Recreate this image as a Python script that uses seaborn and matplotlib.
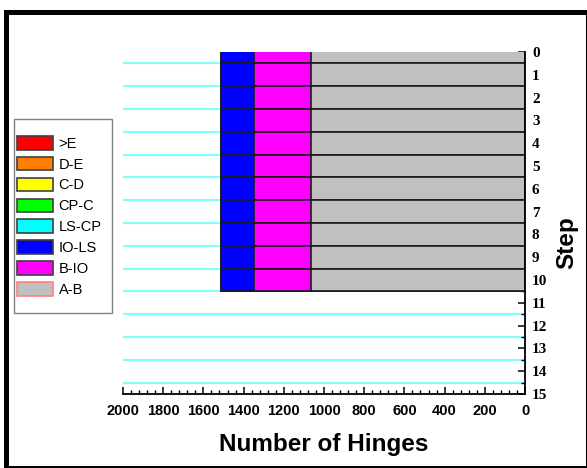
import numpy as np
import pandas as pd
import matplotlib
matplotlib.use("Agg")
import matplotlib.pyplot as plt
from matplotlib.patches import Patch, Rectangle
from matplotlib.ticker import MultipleLocator
import seaborn as sns

# Hinge counts per performance range for each analysis step
steps = [0, 1, 2, 3, 4, 5, 6, 7, 8, 9, 10]
hinges_gt_e = [0, 0, 0, 0, 0, 0, 0, 0, 0, 0, 0]
hinges_d_e = [0, 0, 0, 0, 0, 0, 0, 0, 0, 0, 0]
hinges_c_d = [0, 0, 0, 0, 0, 0, 0, 0, 0, 0, 0]
hinges_cp_c = [0, 0, 0, 0, 0, 0, 0, 0, 0, 0, 0]
hinges_ls_cp = [0, 0, 0, 0, 0, 0, 0, 0, 0, 0, 0]
hinges_io_ls = [166, 166, 166, 166, 166, 166, 166, 166, 166, 166, 166]
hinges_b_io = [280, 280, 280, 280, 280, 280, 280, 280, 280, 280, 280]
hinges_a_b = [1066, 1066, 1066, 1066, 1066, 1066, 1066, 1066, 1066, 1066, 1066]

# Legend order (outermost range first)
categories = [">E", "D-E", "C-D", "CP-C", "LS-CP", "IO-LS", "B-IO", "A-B"]
colors = ["#ff0000", "#ff8000", "#ffff00", "#00ff00", "#00ffff",
          "#0000ff", "#ff00ff", "#c0c0c0"]
series = [hinges_gt_e, hinges_d_e, hinges_c_d, hinges_cp_c, hinges_ls_cp,
          hinges_io_ls, hinges_b_io, hinges_a_b]

x_ticks = [2000, 1800, 1600, 1400, 1200, 1000, 800, 600, 400, 200, 0]
y_ticks = list(range(16))

W, H = 587, 468
fig = plt.figure(figsize=(W / 100, H / 100), dpi=100)
fig.patch.set_facecolor("white")


def fx(px):
    return px / W


def fy(py):
    return 1 - py / H


ax = fig.add_axes([fx(123), fy(394), fx(525) - fx(123), fy(52) - fy(394)])

# Stack: cumulative totals from the innermost range (A-B) outward
cum = np.zeros(len(steps))
cumulative = {}
for cat, vals in zip(categories[::-1], series[::-1]):
    cum = cum + np.array(vals)
    cumulative[cat] = cum.copy()

for cat, col in zip(categories, colors):
    df = pd.DataFrame({"step": steps, "hinges": cumulative[cat]})
    sns.barplot(data=df, x="hinges", y="step", orient="h", native_scale=True,
                width=1.0, color=col, saturation=1, edgecolor="#1a1a1a",
                linewidth=1.2, errorbar=None, ax=ax, zorder=2)

ax.set_xlim(2000, 0)
ax.set_ylim(15, 0)

# Axes styling
for s in ["top", "left"]:
    ax.spines[s].set_visible(False)
for s in ["bottom", "right"]:
    ax.spines[s].set_linewidth(1.3)
    ax.spines[s].set_color("black")

ax.yaxis.tick_right()
ax.yaxis.set_label_position("right")
ax.set_xticks(x_ticks)
ax.set_xticklabels([str(v) for v in x_ticks])
ax.xaxis.set_minor_locator(MultipleLocator(40))
ax.set_yticks(y_ticks)
ax.set_yticklabels([str(v) for v in y_ticks])
ax.yaxis.set_minor_locator(MultipleLocator(0.5))

ax.tick_params(axis="x", which="major", direction="in", length=5, width=1.1,
               pad=7, labelsize=10.5)
ax.tick_params(axis="x", which="minor", direction="in", length=3, width=1.0)
ax.tick_params(axis="y", which="major", direction="in", length=5, width=1.1,
               pad=5, labelsize=11, left=False, right=True)
ax.tick_params(axis="y", which="minor", direction="in", length=3, width=1.0,
               left=False, right=True)
for lab in ax.get_xticklabels():
    lab.set_fontfamily("Liberation Sans")
    lab.set_fontweight("bold")
for lab in ax.get_yticklabels():
    lab.set_fontfamily("Liberation Serif")
    lab.set_fontweight("bold")

# Half-step guide lines
ax.grid(False)
ax.yaxis.grid(True, which="minor", color="#80ffff", linewidth=1.5)
ax.set_axisbelow(True)

ax.set_xlabel("Number of Hinges", fontsize=17.5, fontweight="bold",
              fontfamily="Liberation Sans")
ax.xaxis.label.set_va("center")
ax.xaxis.set_label_coords(0.5, (394 - 445) / 342)
ax.set_ylabel("Step", fontsize=17.5, fontweight="bold",
              fontfamily="Liberation Sans", rotation=90)
ax.yaxis.label.set_va("center")
ax.yaxis.label.set_ha("center")
ax.yaxis.set_label_coords((567 - 123) / 402, (394 - 243) / 342)

# Legend
handles = []
for cat, col in zip(categories, colors):
    ec = "#ff8080" if cat == "A-B" else "#404040"
    handles.append(Patch(facecolor=col, edgecolor=ec, linewidth=1.2, label=cat))
leg = fig.legend(handles=handles, loc="upper left",
                 bbox_to_anchor=(fx(17), fy(136)), frameon=False,
                 prop={"family": "Liberation Sans", "size": 10.5},
                 handlelength=2.5, handleheight=1.05, handletextpad=0.35,
                 labelspacing=0.42, borderpad=0, borderaxespad=0)
fig.add_artist(Rectangle((fx(14), fy(313)), fx(112) - fx(14), fy(119) - fy(313),
                         transform=fig.transFigure, fill=False,
                         edgecolor="#808080", linewidth=1.0))

# Window frame
fig.add_artist(Rectangle((fx(4), fy(467)), fx(9) - fx(4), fy(10) - fy(467),
                         transform=fig.transFigure, facecolor="black",
                         edgecolor="none"))
fig.add_artist(Rectangle((fx(4), fy(15)), fx(587) - fx(4), fy(10) - fy(15),
                         transform=fig.transFigure, facecolor="black",
                         edgecolor="none"))
fig.add_artist(Rectangle((fx(4), fy(468)), fx(587) - fx(4), fy(466) - fy(468),
                         transform=fig.transFigure, facecolor="black",
                         edgecolor="none"))
fig.add_artist(Rectangle((fx(585.5), fy(468)), fx(587) - fx(585.5),
                         fy(10) - fy(468), transform=fig.transFigure,
                         facecolor="black", edgecolor="none"))

fig.savefig("out.png", dpi=100)
